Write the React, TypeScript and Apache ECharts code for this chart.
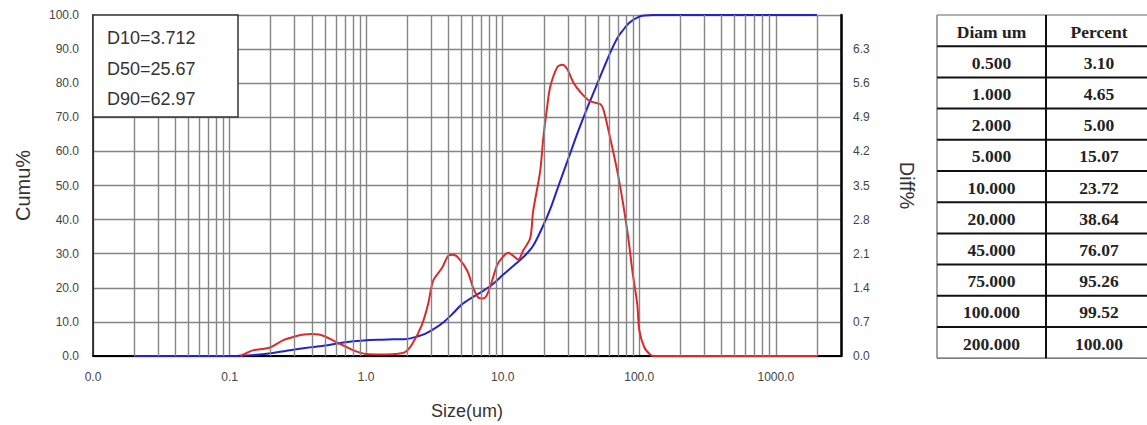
import React, { useEffect, useRef } from "react";
import * as echarts from "echarts";

// ---- data ----
const cumuX = [0.02, 0.1, 0.12, 0.15, 0.2, 0.25, 0.3, 0.4, 0.5, 0.6, 0.7, 0.8, 1.0, 1.3, 1.6, 2.0, 2.4, 2.7, 3.2, 3.712, 4.3, 5.0, 6.0, 7.0, 8.0, 9.0, 10.0, 12.0, 14.5, 16.7, 20.0, 22.5, 25.67, 30, 35, 40, 45, 50, 55, 62.97, 70, 75, 85, 100, 110, 125, 2000];
const cumuY = [0, 0, 0.1, 0.3, 0.8, 1.4, 1.9, 2.6, 3.1, 3.6, 4.0, 4.3, 4.65, 4.8, 4.9, 5.0, 5.8, 6.5, 8.2, 10.0, 12.4, 15.07, 17.2, 18.8, 20.3, 22.0, 23.72, 26.5, 29.4, 32.3, 38.64, 43.5, 50.0, 57.5, 65.0, 71.0, 76.07, 80.5, 84.5, 90.0, 93.6, 95.26, 97.8, 99.52, 99.85, 100, 100];

const diffX = [0.12, 0.13, 0.15, 0.18, 0.2, 0.25, 0.3, 0.35, 0.4, 0.45, 0.5, 0.6, 0.7, 0.8, 0.9, 1.0, 1.3, 1.63, 1.93, 2.17, 2.57, 2.84, 3.1, 3.6, 4.0, 4.34, 4.72, 5.5, 6.08, 6.62, 7.2, 7.69, 8.37, 9.12, 9.92, 11.0, 11.9, 13.0, 14.1, 15.9, 16.7, 18.8, 19.8, 21.2, 22.3, 25.1, 27.3, 29.7, 32.8, 37.0, 43.6, 51.8, 54.5, 61.4, 69.1, 76.4, 83.1, 89.0, 96.7, 100, 108.8, 120, 127, 2000];
const diffY = [0, 0.05, 0.12, 0.15, 0.18, 0.33, 0.4, 0.44, 0.45, 0.44, 0.4, 0.29, 0.2, 0.12, 0.07, 0.04, 0.03, 0.04, 0.08, 0.24, 0.65, 1.06, 1.55, 1.81, 2.06, 2.08, 2.02, 1.75, 1.4, 1.2, 1.18, 1.26, 1.55, 1.87, 2.02, 2.12, 2.06, 1.98, 2.16, 2.42, 2.97, 3.79, 4.46, 5.13, 5.53, 5.93, 5.98, 5.89, 5.62, 5.42, 5.23, 5.17, 5.07, 4.46, 3.79, 3.1, 2.42, 1.75, 1.06, 0.53, 0.18, 0.03, 0, 0];

const minorGridX = [0.02, 0.03, 0.04, 0.05, 0.06, 0.07, 0.08, 0.09, 0.2, 0.3, 0.4, 0.5, 0.6, 0.7, 0.8, 0.9, 2, 3, 4, 5, 6, 7, 8, 9, 20, 30, 40, 50, 60, 70, 80, 90, 200, 300, 400, 500, 600, 700, 800, 900, 2000];

const dStats = ["D10=3.712", "D50=25.67", "D90=62.97"];
const tableHeader = ["Diam um", "Percent"];
const diamLabels = ["0.500", "1.000", "2.000", "5.000", "10.000", "20.000", "45.000", "75.000", "100.000", "200.000"];
const percentLabels = ["3.10", "4.65", "5.00", "15.07", "23.72", "38.64", "76.07", "95.26", "99.52", "100.00"];

const SANS = '"Liberation Sans", Arial, sans-serif';
const SERIF = '"Liberation Serif", "Times New Roman", serif';

export default function App() {
  const ref = useRef<HTMLDivElement>(null);

  useEffect(() => {
    document.body.style.margin = "0";
    const chart = echarts.init(ref.current!, null, { renderer: "svg" });

    const isDecade = (v: number) => {
      const l = Math.log10(v);
      return Math.abs(l - Math.round(l)) < 1e-6;
    };

    // legend box with D values
    const boxEls: any[] = [
      {
        type: "rect",
        shape: { x: 93, y: 15, width: 145, height: 102 },
        style: { fill: "#fff", stroke: "#333", lineWidth: 1.5 },
        z: 100,
      },
      ...dStats.map((t, i) => ({
        type: "text",
        x: 107,
        y: 38 + i * 30.5,
        style: { text: t, fontSize: 18, fontFamily: SANS, fill: "#333", verticalAlign: "middle", align: "left" },
        z: 101,
      })),
    ];

    // table
    const tLeft = 937, tMid = 1046, tRight = 1160, tTop = 15, rowH = 31.2;
    const nRows = diamLabels.length + 1;
    const tBottom = tTop + rowH * nRows;
    const tableEls: any[] = [];
    tableEls.push({ type: "line", shape: { x1: tLeft, y1: tTop, x2: tRight, y2: tTop }, style: { stroke: "#666", lineWidth: 1.2 }, z: 100 });
    tableEls.push({ type: "line", shape: { x1: tLeft, y1: tBottom, x2: tRight, y2: tBottom }, style: { stroke: "#555", lineWidth: 1.2 }, z: 100 });
    tableEls.push({ type: "line", shape: { x1: tLeft, y1: tTop, x2: tLeft, y2: tBottom }, style: { stroke: "#666", lineWidth: 1.2 }, z: 100 });
    tableEls.push({ type: "line", shape: { x1: tMid, y1: tTop, x2: tMid, y2: tBottom }, style: { stroke: "#111", lineWidth: 2 }, z: 100 });
    for (let i = 1; i < nRows; i++) {
      const y = tTop + rowH * i;
      tableEls.push({ type: "line", shape: { x1: tLeft, y1: y, x2: tRight, y2: y }, style: { stroke: "#111", lineWidth: 2 }, z: 100 });
    }
    const cellText = (t: string, cx: number, row: number) => ({
      type: "text",
      x: cx,
      y: tTop + rowH * row + rowH / 2 + 1,
      style: { text: t, fontSize: 17.5, fontWeight: "bold", fontFamily: SERIF, fill: "#222", align: "center", verticalAlign: "middle" },
      z: 101,
    });
    const c1 = (tLeft + tMid) / 2, c2 = 1099;
    tableEls.push(cellText(tableHeader[0], c1, 0));
    tableEls.push(cellText(tableHeader[1], c2, 0));
    diamLabels.forEach((d, i) => tableEls.push(cellText(d, c1, i + 1)));
    percentLabels.forEach((p, i) => tableEls.push(cellText(p, c2, i + 1)));

    const gridColor = "#858585";
    const gridW = 1.4;

    chart.setOption({
      animation: false,
      backgroundColor: "#fff",
      grid: { left: 93, right: 306, top: 15, bottom: 66, containLabel: false },
      xAxis: {
        type: "log",
        logBase: 10,
        min: 0.01,
        max: 3000,
        name: "Size(um)",
        nameLocation: "middle",
        nameGap: 46,
        nameTextStyle: { fontSize: 18, color: "#333", fontFamily: SANS },
        axisLine: { show: true, onZero: false, lineStyle: { color: "#000", width: 2 } },
        axisTick: { show: false },
        axisLabel: {
          fontSize: 12,
          color: "#444",
          fontFamily: SANS,
          margin: 15,
          formatter: (v: number) => (isDecade(v) ? v.toFixed(1) : ""),
        },
        splitLine: { show: true, lineStyle: { color: gridColor, width: gridW } },
      },
      yAxis: [
        {
          type: "value",
          position: "left",
          min: 0,
          max: 100,
          interval: 10,
          name: "Cumu%",
          nameLocation: "middle",
          nameRotate: 90,
          nameGap: 60,
          nameTextStyle: { fontSize: 20, color: "#333", fontFamily: SANS },
          axisLine: { show: true, lineStyle: { color: "#111", width: 1.5 } },
          axisTick: { show: false },
          axisLabel: { fontSize: 12, color: "#444", fontFamily: SANS, margin: 14, padding: [3, 0, 0, 0], formatter: (v: number) => v.toFixed(1) },
          splitLine: { show: true, lineStyle: { color: gridColor, width: gridW } },
        },
        {
          type: "value",
          position: "right",
          min: 0,
          max: 7,
          interval: 0.7,
          name: "Diff%",
          nameLocation: "middle",
          nameRotate: -90,
          nameGap: 56,
          nameTextStyle: { fontSize: 20, color: "#333", fontFamily: SANS },
          axisLine: { show: true, lineStyle: { color: "#000", width: 2.5 } },
          axisTick: { show: false },
          axisLabel: {
            fontSize: 12,
            color: "#444",
            fontFamily: SANS,
            margin: 12,
            padding: [5, 0, 0, 0],
            formatter: (v: number) => (v > 6.95 ? "" : v.toFixed(1)),
          },
          splitLine: { show: false },
        },
      ],
      series: [
        {
          type: "line",
          name: "grid",
          xAxisIndex: 0,
          yAxisIndex: 0,
          data: [[0.01, 0]],
          symbol: "none",
          lineStyle: { opacity: 0 },
          silent: true,
          z: 1,
          markLine: {
            silent: true,
            symbol: "none",
            label: { show: false },
            lineStyle: { color: gridColor, width: gridW, type: "solid" },
            data: minorGridX.map((v) => ({ xAxis: v })),
          },
        },
        {
          type: "line",
          name: "Cumu%",
          yAxisIndex: 0,
          data: cumuX.map((x, i) => [x, cumuY[i]]),
          symbol: "none",
          smooth: 0.3,
          lineStyle: { color: "#2323c8", width: 2 },
          z: 3,
        },
        {
          type: "line",
          name: "Diff%",
          yAxisIndex: 1,
          data: diffX.map((x, i) => [x, diffY[i]]),
          symbol: "none",
          smooth: 0.3,
          lineStyle: { color: "#dc2a2a", width: 2 },
          z: 4,
        },
      ],
      graphic: [...boxEls, ...tableEls],
    });

    return () => chart.dispose();
  }, []);

  return <div ref={ref} style={{ width: 1147, height: 425 }} />;
}
